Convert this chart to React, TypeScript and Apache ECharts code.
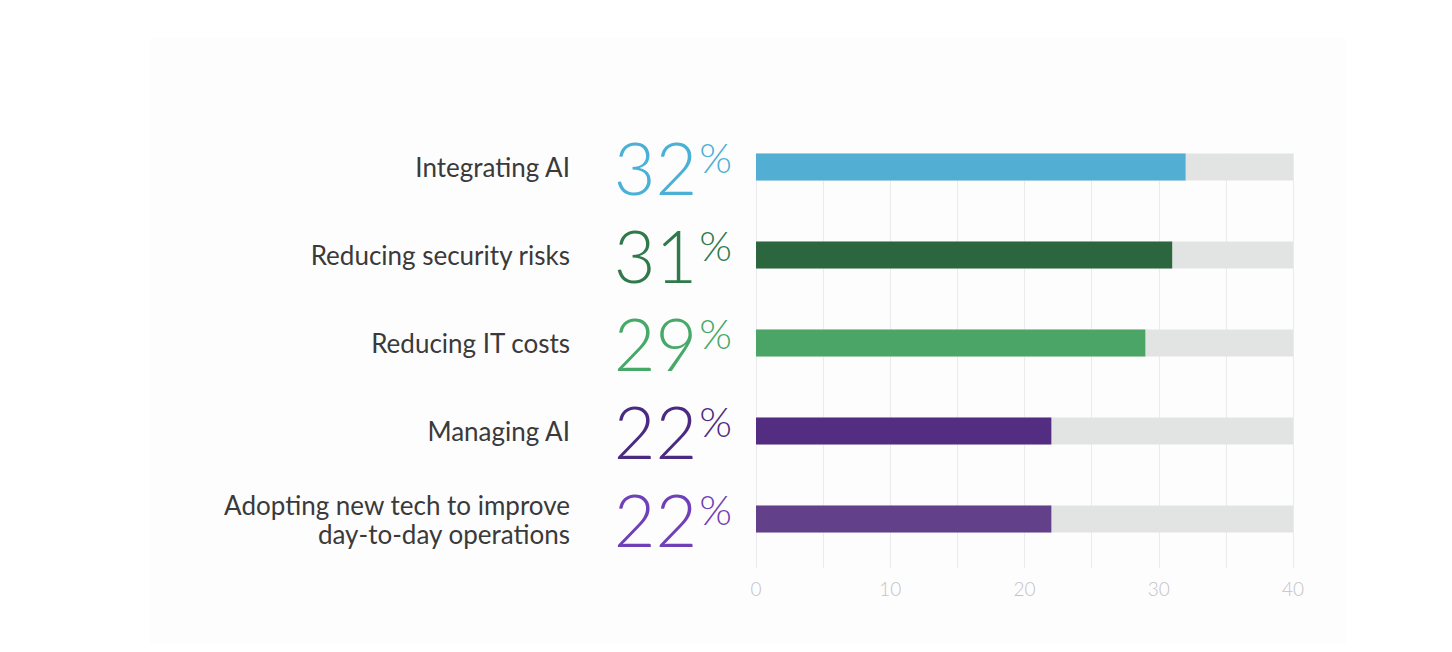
import React, { useEffect, useRef } from "react";
import * as echarts from "echarts";

// Share of respondents naming each priority
const categories = [
  "Integrating AI",
  "Reducing security risks",
  "Reducing IT costs",
  "Managing AI",
  "Adopting new tech to improve\nday-to-day operations",
];
const values = [32, 31, 29, 22, 22];
const barColors = ["#52aed3", "#2b663f", "#4aa566", "#522d82", "#63418a"];
const numberColors = ["#4bb0d6", "#2f7a4a", "#47a968", "#4b2a82", "#7040b8"];
const axisMin = 0;
const axisMax = 40;
const gridStep = 5;

const FONT = "Lato, 'Open Sans', sans-serif";

export default function App() {
  const ref = useRef<HTMLDivElement>(null);

  useEffect(() => {
    if (!ref.current) return;
    const chart = echarts.init(ref.current, undefined, { renderer: "svg" });

    const rich: Record<string, any> = {};
    numberColors.forEach((c, i) => {
      rich["n" + i] = {
        fontSize: 72,
        fontWeight: 300,
        fontFamily: FONT,
        color: c,
        lineHeight: 72,
      };
      rich["p" + i] = {
        fontSize: 42,
        fontWeight: 300,
        fontFamily: FONT,
        color: c,
        lineHeight: 42,
        verticalAlign: "top",
        padding: [5, 0, 0, 2],
      };
    });

    chart.setOption({
      animation: false,
      backgroundColor: "#ffffff",
      graphic: [
        {
          type: "rect",
          z: -10,
          shape: { x: 150, y: 38, width: 1196, height: 606 },
          style: { fill: "#fefdfe" },
        },
      ],
      grid: [
        { left: 756, right: 159, top: 123, height: 440 },
        { left: 756, right: 159, top: 153, bottom: 84 },
      ],
      xAxis: [
        { type: "value", gridIndex: 0, min: axisMin, max: axisMax, show: false },
        {
          type: "value",
          gridIndex: 1,
          min: axisMin,
          max: axisMax,
          interval: gridStep,
          axisLine: { show: false },
          axisTick: { show: false },
          splitLine: { show: true, lineStyle: { color: "#ebebee", width: 1 } },
          axisLabel: {
            margin: 11,
            fontSize: 19,
            fontWeight: 300,
            fontFamily: FONT,
            color: "#c3c3c7",
            formatter: (v: number) => (v % 10 === 0 ? String(v) : ""),
          },
        },
      ],
      yAxis: [
        {
          type: "category",
          gridIndex: 0,
          inverse: true,
          data: categories,
          axisLine: { show: false },
          axisTick: { show: false },
          axisLabel: {
            margin: 186,
            fontSize: 26,
            lineHeight: 29,
            fontFamily: FONT,
            color: "#3a3a3a",
            align: "right",
          },
        },
        {
          type: "category",
          gridIndex: 0,
          inverse: true,
          position: "left",
          data: categories,
          axisLine: { show: false },
          axisTick: { show: false },
          axisLabel: {
            margin: 24,
            formatter: (_v: string, i: number) => `{n${i}|${values[i]}}{p${i}|%}`,
            rich,
          },
        },
        { type: "value", gridIndex: 1, show: false },
      ],
      series: [
        {
          type: "bar",
          xAxisIndex: 0,
          yAxisIndex: 0,
          barWidth: 27,
          showBackground: true,
          backgroundStyle: { color: "#e2e3e3" },
          data: values.map((v, i) => ({ value: v, itemStyle: { color: barColors[i] } })),
        },
      ],
    });

    return () => chart.dispose();
  }, []);

  return (
    <div
      ref={ref}
      style={{ position: "fixed", left: 0, top: 0, width: 1452, height: 652 }}
    />
  );
}
